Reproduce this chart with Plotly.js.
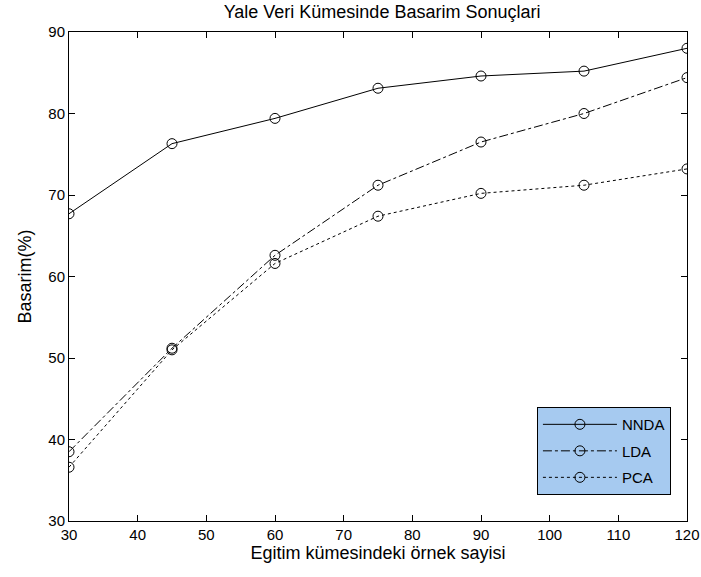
<!DOCTYPE html>
<html><head><meta charset="utf-8">
<script src="https://cdn.plot.ly/plotly-3.0.1.min.js"></script>
<style>body{margin:0;background:#fff}#c{width:701px;height:577px}</style>
</head><body><div id="c"></div>
<script>
const samples = [30, 45, 60, 75, 90, 105, 120];
const nnda = [67.7, 76.3, 79.4, 83.1, 84.6, 85.2, 88.0];
const lda  = [38.5, 51.2, 62.6, 71.2, 76.5, 80.0, 84.4];
const pca  = [36.6, 51.0, 61.6, 67.4, 70.2, 71.2, 73.2];
const names = ['NNDA', 'LDA', 'PCA'];
const xTicks = [30, 40, 50, 60, 70, 80, 90, 100, 110, 120];
const yTicks = [30, 40, 50, 60, 70, 80, 90];

const fam = 'Liberation Sans, Arial, sans-serif';
const tickFont = {family: fam, size: 15, color: '#000'};
const titleFont = {family: fam, size: 18, color: '#000'};
const legFont = {family: fam, size: 15, color: '#000'};
function tr(y, name, dash) {
  return {x: samples, y: y, name: name, legendgroup: name, mode: 'lines+markers', type: 'scatter',
    line: {color: '#000', width: 1, dash: dash},
    marker: {symbol: 'circle-open', size: 10, color: '#000', line: {width: 1, color: '#000'}}};
}
const data = [tr(nnda, names[0], 'solid'), tr(lda, names[1], 'dashdot'), tr(pca, names[2], '3px,3px')];
const axisCommon = {showgrid: false, zeroline: false, showline: true, linecolor: '#000', linewidth: 1,
  mirror: 'allticks', ticks: 'inside', ticklen: 6, tickcolor: '#000', tickfont: tickFont};
const layout = {
  width: 701, height: 577, paper_bgcolor: '#fff', plot_bgcolor: '#fff', font: tickFont,
  margin: {l: 69, r: 14, t: 32, b: 56},
  title: {text: 'Yale Veri Kümesinde Basarim Sonuçlari', font: titleFont, x: 0.545, xanchor: 'center', y: 0.979, yanchor: 'middle'},
  xaxis: Object.assign({}, axisCommon, {range: [30, 120], tickvals: xTicks, ticktext: xTicks.map(String),
    title: {text: 'Egitim kümesindeki örnek sayisi', font: titleFont, standoff: 2}}),
  yaxis: Object.assign({}, axisCommon, {range: [30, 90], tickvals: yTicks, ticktext: yTicks.map(String),
    title: {text: 'Basarim(%)', font: titleFont, standoff: 12}}),
  legend: {x: 0.974, y: 0.053, xanchor: 'right', yanchor: 'bottom', bgcolor: 'rgb(166,202,240)',
    bordercolor: '#000', borderwidth: 1, font: legFont, tracegroupgap: 4, itemwidth: 74},
  showlegend: true
};
Plotly.newPlot('c', data, layout, {staticPlot: true});
</script></body></html>
